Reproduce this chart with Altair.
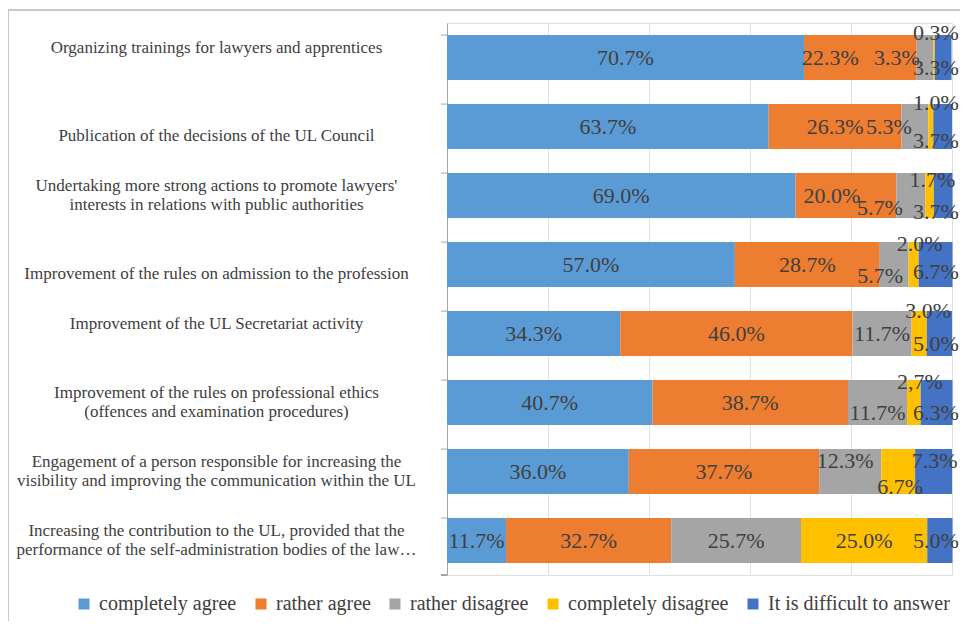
import json
import altair as alt
import pandas as pd

categories = [
    "Organizing trainings for lawyers and apprentices",
    "Publication of the decisions of the UL Council",
    "Undertaking more strong actions to promote lawyers'\ninterests in relations with public authorities",
    "Improvement of the rules on admission to the profession",
    "Improvement of the UL Secretariat activity",
    "Improvement of the rules on professional ethics\n(offences and examination procedures)",
    "Engagement of a person responsible for increasing the\nvisibility and improving the communication within the UL",
    "Increasing the contribution to the UL, provided that the\nperformance of the self-administration bodies of the law\u2026",
]
series = ["completely agree", "rather agree", "rather disagree",
          "completely disagree", "It is difficult to answer"]
completely_agree = [70.7, 63.7, 69.0, 57.0, 34.3, 40.7, 36.0, 11.7]
rather_agree = [22.3, 26.3, 20.0, 28.7, 46.0, 38.7, 37.7, 32.7]
rather_disagree = [3.3, 5.3, 5.7, 5.7, 11.7, 11.7, 12.3, 25.7]
completely_disagree = [0.3, 1.0, 1.7, 2.0, 3.0, 2.7, 6.7, 25.0]
difficult = [3.3, 3.7, 3.7, 6.7, 5.0, 6.3, 7.3, 5.0]
colors = ["#5B9BD5", "#ED7D31", "#A5A5A5", "#FFC000", "#4472C4"]

# label text exactly as printed in the original (one uses a comma)
label_override = {(5, 3): "2,7%"}
# manual label displacement (pixels) as in the original layout
label_shift = {
    (0, 1): (-30, 0), (0, 2): (-28, 0), (0, 3): (6, -25), (0, 4): (6, 10),
    (1, 2): (-26, 0), (1, 3): (11, -24), (1, 4): (7, 14),
    (2, 1): (-14, 0), (2, 2): (-31, 12), (2, 3): (3, -16), (2, 4): (5, 16),
    (3, 2): (-14, 11), (3, 3): (6, -21), (3, 4): (4, 7),
    (4, 3): (9, -23), (4, 4): (6, 10),
    (5, 2): (0, 10), (5, 3): (6, -21), (5, 4): (4, 10),
    (6, 2): (-5, -11), (6, 3): (2, 15), (6, 4): (1, -11),
    (7, 4): (3, 0),
}
# category labels that sit a little lower in the original
lower_labels = [categories[1], categories[3]]

values = [completely_agree, rather_agree, rather_disagree, completely_disagree, difficult]
rows = []
for ci, cat in enumerate(categories):
    for si, s in enumerate(series):
        v = values[si][ci]
        dx, dy = label_shift.get((ci, si), (0, 0))
        rows.append({
            "category": cat, "series": s, "order": si, "value": v,
            "label": label_override.get((ci, si), f"{v:.1f}%"),
            "dx": dx, "dy": dy,
        })
df = pd.DataFrame(rows)

FONT = "Liberation Serif"
TXT = "#404040"
W, H = 505, 552
BAR = 45

label_expr = (
    "indexof([" + ", ".join(json.dumps(c) for c in lower_labels) + "], datum.label) >= 0"
    " ? ['', datum.label] : split(datum.label, '\\n')"
)

y_enc = alt.Y(
    "category:N", sort=categories, title=None,
    scale=alt.Scale(paddingInner=0.35, paddingOuter=0.175),
    axis=alt.Axis(
        labelExpr=label_expr,
        labelAlign="center", labelBaseline="middle", labelPadding=231,
        labelOffset=-10,
        labelFont=FONT, labelFontSize=17, labelColor=TXT, labelLineHeight=19,
        labelLimit=440, ticks=False, domainColor="#A6A6A6", domainWidth=1,
        grid=False,
    ),
)

base = alt.Chart(df).transform_stack(
    stack="value", groupby=["category"], as_=["x0", "x1"],
    sort=[alt.SortField("order", order="ascending")],
).transform_calculate(
    # keep the right-most labels inside the page
    mid=f"min((datum.x0 + datum.x1) / 2 + datum.dx * 100 / {W}, 100 - 16 * 100 / {W})",
    yoff=f"datum.dy + {BAR / 2}",
)

bars = base.mark_bar(size=BAR).encode(
    x=alt.X("x0:Q", title=None,
            scale=alt.Scale(domain=[0, 100], nice=False),
            axis=alt.Axis(values=[0, 20, 40, 60, 80, 100], labels=False, ticks=False,
                          domain=False, grid=True, gridColor="#DDE1E8", title=None)),
    x2="x1:Q",
    y=y_enc,
    color=alt.Color("series:N", sort=series,
                    scale=alt.Scale(domain=series, range=colors),
                    legend=alt.Legend(
                        title=None, orient="none", legendX=-373, legendY=571,
                        direction="horizontal", columns=5, symbolType="square",
                        symbolSize=121, symbolStrokeWidth=0, labelFont=FONT,
                        labelFontSize=20, labelColor=TXT, columnPadding=14,
                        labelOffset=5, labelLimit=300)),
    order=alt.Order("order:Q"),
)

labels = base.mark_text(font=FONT, fontSize=22, color=TXT, baseline="middle").encode(
    x=alt.X("mid:Q"),
    y=alt.Y("category:N", sort=categories),
    yOffset=alt.YOffset("yoff:Q", scale=None),
    text="label:N",
)

cat_df = pd.DataFrame({"category": categories})
ticks = alt.Chart(cat_df).mark_rule(color="#A6A6A6").encode(
    y=alt.Y("category:N", sort=categories, bandPosition=0),
    x=alt.value(-6), x2=alt.value(0),
)
bottom_tick = alt.Chart(cat_df).mark_rule(color="#A6A6A6").encode(
    y=alt.value(H), x=alt.value(-6), x2=alt.value(0),
)
border_top = alt.Chart(cat_df).mark_rule(color="#C8C8C8", clip=False).encode(
    y=alt.value(-13), x=alt.value(-439), x2=alt.value(520),
)
border_left = alt.Chart(cat_df).mark_rule(color="#C8C8C8", clip=False).encode(
    x=alt.value(-438.5), y=alt.value(-13), y2=alt.value(620),
)

chart = alt.layer(border_top, border_left, bars, labels, ticks, bottom_tick).properties(
    width=W, height=H,
    autosize=alt.AutoSizeParams(type="none"),
    padding={"left": 439, "top": 15, "right": 8, "bottom": 46},
).configure_view(stroke=None).configure(font=FONT)

chart.save("out.html", embed_options={"renderer": "svg", "actions": False})
